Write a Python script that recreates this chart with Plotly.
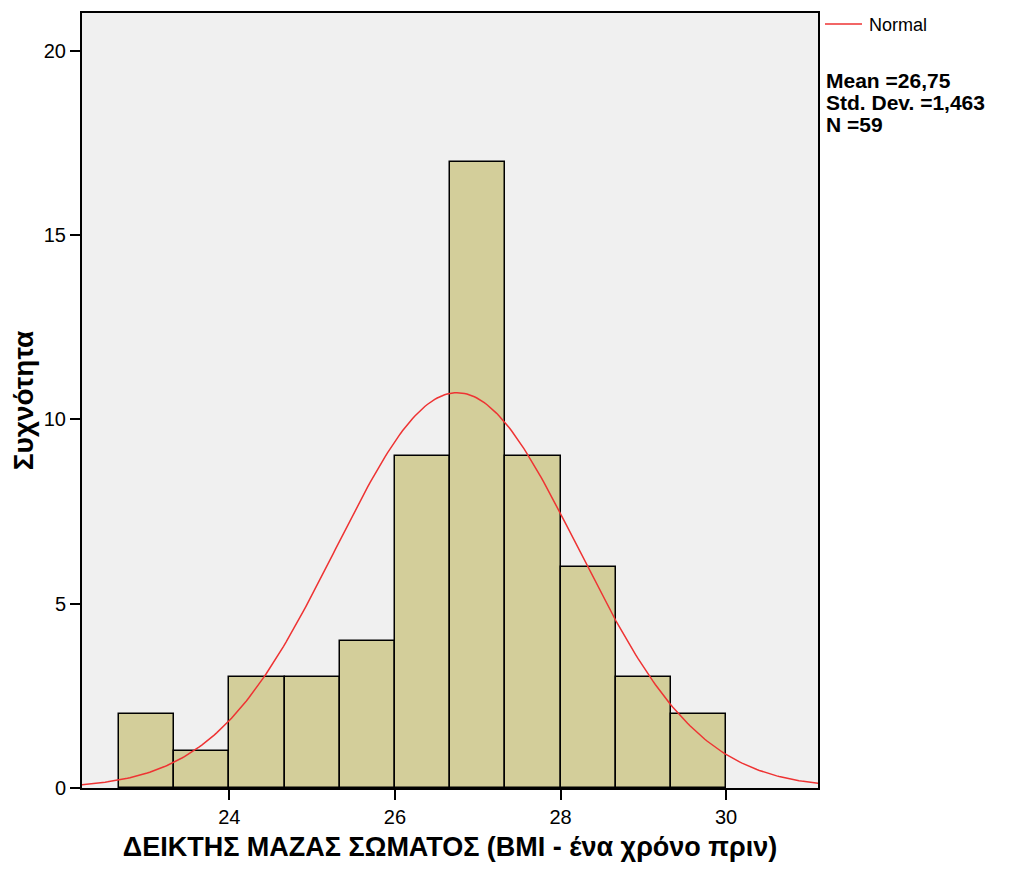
import numpy as np
import plotly.graph_objects as go

# Data
bin_start = 22.6667
bin_width = 2 / 3
counts = [2, 1, 3, 3, 4, 9, 17, 9, 6, 3, 2]
mean = 26.75
std = 1.463
n = 59
y_ticks = [0, 5, 10, 15, 20]
x_ticks = [24, 26, 28, 30]
stats_lines = ["Mean =26,75", "Std. Dev. =1,463", "N =59"]
legend_label = "Normal"

centers = [bin_start + bin_width * (i + 0.5) for i in range(len(counts))]

xs = np.linspace(22.2, 31.15, 300)
ys = n * bin_width / (std * np.sqrt(2 * np.pi)) * np.exp(-0.5 * ((xs - mean) / std) ** 2)

curve_color = "#EE3333"

fig = go.Figure()
fig.add_trace(go.Bar(
    x=centers, y=counts, width=bin_width,
    marker=dict(color="#D3CE9A", line=dict(color="black", width=1.5)),
    showlegend=False, hoverinfo="skip"))
fig.add_trace(go.Scatter(
    x=xs, y=ys, mode="lines", name=legend_label, showlegend=False,
    line=dict(color=curve_color, width=1.5)))

# page body has an 8px offset; plot area target: x 82..818, y 11..788
W, H = 1010, 867
L, T = 74, 3
R = 1018 - 818
B = 875 - 788
plot_w = W - L - R
plot_h = H - T - B


def px_x(page_x):
    return (page_x - 82) / plot_w


def px_y(page_y):
    return 1 - (page_y - 11) / plot_h


font = "Liberation Sans, Arial, sans-serif"
fig.update_layout(
    width=W, height=H,
    margin=dict(l=L, r=R, t=T, b=B),
    paper_bgcolor="white", plot_bgcolor="#F0F0F0",
    font=dict(family=font, size=20, color="black"),
    bargap=0,
    showlegend=False,
    xaxis=dict(range=[22.22, 31.11], tickvals=x_ticks, ticks="outside",
               ticklen=10, tickwidth=2, tickcolor="black",
               tickfont=dict(size=20),
               showgrid=False, zeroline=False, showline=True, mirror=True,
               linecolor="black", linewidth=2,
               title=dict(text="<b>ΔΕΙΚΤΗΣ ΜΑΖΑΣ ΣΩΜΑΤΟΣ (BMI - ένα χρόνο πριν)</b>",
                          font=dict(size=27), standoff=10)),
    yaxis=dict(range=[0, 21.03], tickvals=y_ticks, ticks="outside",
               ticklen=10, tickwidth=2, tickcolor="black",
               tickfont=dict(size=20),
               showgrid=False, zeroline=False, showline=True, mirror=True,
               linecolor="black", linewidth=2,
               title=dict(text="<b>Συχνότητα</b>", font=dict(size=28), standoff=8)),
)

# legend entry for the normal curve
fig.add_shape(type="line", xref="paper", yref="paper",
              x0=px_x(825), x1=px_x(862), y0=px_y(22), y1=px_y(22),
              line=dict(color=curve_color, width=1.5))
fig.add_annotation(xref="paper", yref="paper", x=px_x(867), y=px_y(23),
                   xanchor="left", yanchor="middle", text=legend_label,
                   showarrow=False, font=dict(size=18))

for i, line in enumerate(stats_lines):
    yc = 79 + 22 * i  # target center pixel in page
    fig.add_annotation(
        xref="paper", yref="paper", x=px_x(824), y=px_y(yc),
        xanchor="left", yanchor="middle",
        text="<b>" + line + "</b>", showarrow=False, align="left",
        font=dict(size=21))

fig.write_html("out.html")
